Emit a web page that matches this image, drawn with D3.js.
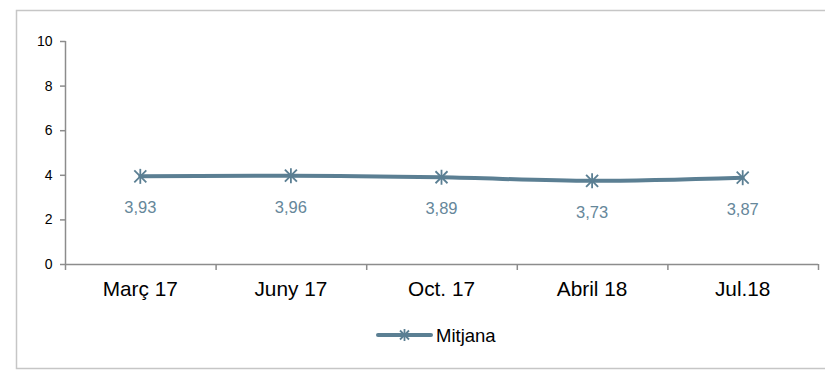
<!DOCTYPE html>
<html><head><meta charset="utf-8">
<script src="https://cdn.jsdelivr.net/npm/d3@7"></script>
<style>body{margin:0;background:#fff}svg{display:block}text{font-family:"Liberation Sans",Arial,sans-serif}</style>
</head><body>
<svg id="c" width="825" height="370"></svg>
<script>
const categories = ["Març 17","Juny 17","Oct. 17","Abril 18","Jul.18"];
const values = [3.93,3.96,3.89,3.73,3.87];
const valueLabels = ["3,93","3,96","3,89","3,73","3,87"];
const yTicks = [0,2,4,6,8,10];
const seriesName = "Mitjana";

const svg = d3.select("#c");
const lineColor = "#5b7f93", labelColor = "#66879a", axisColor = "#8c8c8c";

svg.append("rect").attr("x",16.5).attr("y",10.5).attr("width",830).attr("height",358)
  .attr("fill","#fff").attr("stroke","#c6c6c6").attr("stroke-width",1.5);

const x = d3.scaleBand().domain(categories).range([65,818]);
const y = d3.scaleLinear().domain([0,10]).range([264,41]);

// y axis
const ya = svg.append("g");
ya.append("line").attr("x1",65.5).attr("x2",65.5).attr("y1",y(10)).attr("y2",y(0)).attr("stroke",axisColor).attr("stroke-width",1.5);
ya.selectAll("line.t").data(yTicks).join("line").attr("class","t")
  .attr("x1",60).attr("x2",65.5).attr("y1",d=>y(d)+0.5).attr("y2",d=>y(d)+0.5).attr("stroke",axisColor).attr("stroke-width",1.5);
ya.selectAll("text").data(yTicks).join("text")
  .attr("x",52.5).attr("y",d=>y(d)).attr("dy","0.36em").attr("text-anchor","end")
  .attr("font-size",14).attr("fill","#000").text(d=>d);

// x axis
const xa = svg.append("g");
xa.append("line").attr("x1",65).attr("x2",818).attr("y1",y(0)+0.5).attr("y2",y(0)+0.5).attr("stroke",axisColor).attr("stroke-width",1.5);
const bounds = categories.map(c=>x(c)).concat([x.range()[1]]);
xa.selectAll("line.t").data(bounds).join("line").attr("class","t")
  .attr("x1",d=>d+0.5).attr("x2",d=>d+0.5).attr("y1",y(0)).attr("y2",y(0)+6).attr("stroke",axisColor).attr("stroke-width",1.5);
xa.selectAll("text").data(categories).join("text")
  .attr("x",d=>x(d)+x.bandwidth()/2).attr("y",296).attr("text-anchor","middle")
  .attr("font-size",20.8).attr("fill","#000").text(d=>d);

// line
const pts = categories.map((c,i)=>[x(c)+x.bandwidth()/2, y(values[i])]);
svg.append("path").attr("d",d3.line().curve(d3.curveMonotoneX)(pts))
  .attr("fill","none").attr("stroke",lineColor).attr("stroke-width",4).attr("stroke-linecap","round");

function star(g,cx,cy,r){
  const s = g.append("g").attr("stroke",lineColor).attr("stroke-width",1.8);
  s.append("line").attr("x1",cx-r).attr("x2",cx+r).attr("y1",cy-r).attr("y2",cy+r);
  s.append("line").attr("x1",cx-r).attr("x2",cx+r).attr("y1",cy+r).attr("y2",cy-r);
  s.append("line").attr("x1",cx).attr("x2",cx).attr("y1",cy-r-1.5).attr("y2",cy+r+1.5);
}
pts.forEach(p=>star(svg,p[0],p[1],6));

svg.selectAll("text.lbl").data(pts).join("text").attr("class","lbl")
  .attr("x",d=>d[0]).attr("y",d=>d[1]+37).attr("text-anchor","middle")
  .attr("font-size",16.5).attr("fill",labelColor).text((d,i)=>valueLabels[i]);

// legend
const lg = svg.append("g");
lg.append("line").attr("x1",378).attr("x2",431).attr("y1",335).attr("y2",335)
  .attr("stroke",lineColor).attr("stroke-width",4).attr("stroke-linecap","round");
star(lg,404.5,335,4.5);
lg.append("text").attr("x",436).attr("y",335).attr("dy","0.36em").attr("font-size",18.5).attr("fill","#000").text(seriesName);
</script>
</body></html>
